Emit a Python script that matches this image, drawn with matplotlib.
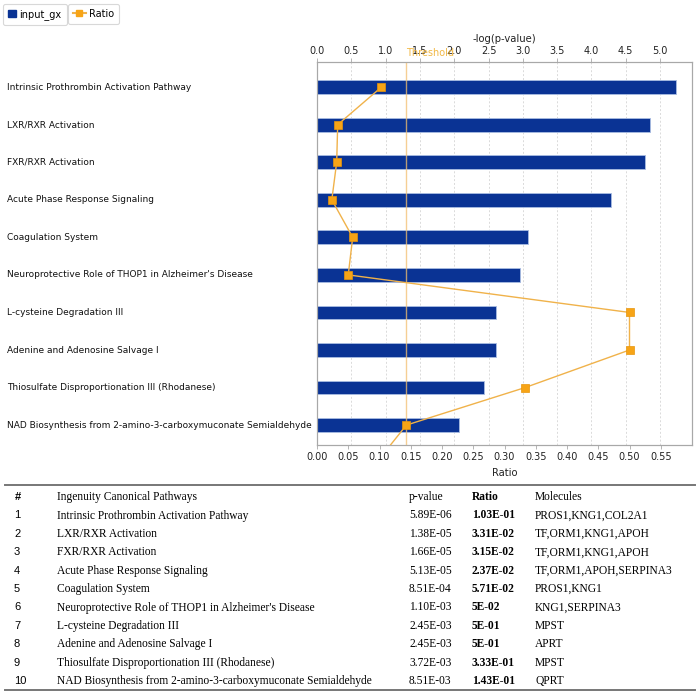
import numpy as np
import matplotlib
matplotlib.use('Agg')
import matplotlib.pyplot as plt
from matplotlib.lines import Line2D
from matplotlib.patches import Patch
import matplotlib.transforms as mtransforms

pathways = [
    "Intrinsic Prothrombin Activation Pathway",
    "LXR/RXR Activation",
    "FXR/RXR Activation",
    "Acute Phase Response Signaling",
    "Coagulation System",
    "Neuroprotective Role of THOP1 in Alzheimer's Disease",
    "L-cysteine Degradation III",
    "Adenine and Adenosine Salvage I",
    "Thiosulfate Disproportionation III (Rhodanese)",
    "NAD Biosynthesis from 2-amino-3-carboxymuconate Semialdehyde",
]
p_values = ["5.89E-06", "1.38E-05", "1.66E-05", "5.13E-05", "8.51E-04",
            "1.10E-03", "2.45E-03", "2.45E-03", "3.72E-03", "8.51E-03"]
ratio_labels = ["1.03E-01", "3.31E-02", "3.15E-02", "2.37E-02", "5.71E-02",
                "5E-02", "5E-01", "5E-01", "3.33E-01", "1.43E-01"]
molecules = ["PROS1,KNG1,COL2A1", "TF,ORM1,KNG1,APOH", "TF,ORM1,KNG1,APOH",
             "TF,ORM1,APOH,SERPINA3", "PROS1,KNG1", "KNG1,SERPINA3",
             "MPST", "APRT", "MPST", "QPRT"]
ratio_next_hidden = 0.095   # line continues to a (cut-off) next pathway
threshold_p = 0.05

logp_ticks = [0.0, 0.5, 1.0, 1.5, 2.0, 2.5, 3.0, 3.5, 4.0, 4.5, 5.0]
ratio_ticks = [0.00, 0.05, 0.10, 0.15, 0.20, 0.25, 0.30, 0.35, 0.40, 0.45, 0.50, 0.55]

neglogp = -np.log10(np.array([float(p) for p in p_values]))
ratios = np.array([float(r) for r in ratio_labels])

W, H = 700, 694
fig = plt.figure(figsize=(W / 100, H / 100), dpi=100)

def fx(px):
    return px / W

def fy(py):
    return 1 - py / H

BAR = '#0a3394'
ORANGE = '#f7a416'
LINEOR = '#f0b24a'
GRAY = '#a8a8a8'

ax = fig.add_axes([fx(317), fy(445), fx(692) - fx(317), fy(62) - fy(445)])
y = np.arange(len(pathways))
ax.barh(y, neglogp, height=0.37, color=BAR, edgecolor='#a9bce2', linewidth=0.6, zorder=2)
ax.set_xlim(0, 5.466)
ax.set_ylim(9.53, -0.67)
ax.set_yticks([])
ax.grid(axis='x', linestyle=(0, (2, 2)), color='#dadada', linewidth=0.7, zorder=0)
ax.set_axisbelow(True)

# ratio axis
ax2 = ax.twiny()
ax2.set_xlim(0, 0.6)
ax2.set_xticks(ratio_ticks)
ax2.set_xticklabels(['%.2f' % t for t in ratio_ticks])
ax2.xaxis.tick_bottom()
ax2.xaxis.set_label_position('bottom')
ax2.tick_params(axis='x', which='both', top=False, labeltop=False, bottom=True, labelbottom=True,
                labelsize=7, length=3, width=0.6, color=GRAY, pad=2, labelcolor='#222222')
ax2.set_xlabel('Ratio', fontsize=7.2, labelpad=4, color='#222222')

# -log(p) axis on top
ax.set_xticks(logp_ticks)
ax.set_xticklabels(['%.1f' % t for t in logp_ticks])
ax.xaxis.tick_top()
ax.xaxis.set_label_position('top')
ax.tick_params(axis='x', which='both', top=True, labeltop=True, bottom=False, labelbottom=False,
               labelsize=7, length=3, width=0.6, color=GRAY, pad=1.0, labelcolor='#222222')
ax.set_xlabel('-log(p-value)', fontsize=7.2, labelpad=3.5, color='#222222')

for a in (ax, ax2):
    for s in a.spines.values():
        s.set_color(GRAY)
        s.set_linewidth(0.8)

# threshold
thr = -np.log10(threshold_p)
ax.axvline(thr, color='#f2c070', linewidth=1.0, alpha=0.75, zorder=3)
tr = mtransforms.blended_transform_factory(ax.transData, ax.transAxes)
ax.text(thr, 1.011, 'Threshold', transform=tr, ha='left', va='bottom',
        fontsize=7, color='#f0b030', alpha=0.9)

line, = ax2.plot(np.append(ratios, ratio_next_hidden), np.append(y, len(y)),
                 color=LINEOR, linewidth=1.0, marker='s', markersize=6,
                 markerfacecolor=ORANGE, markeredgecolor='#e8960c', markeredgewidth=0.5,
                 zorder=4, clip_on=True)
ax2.set_ylim(9.53, -0.67)
line.set_clip_path(ax2.patch)

# category labels
trl = mtransforms.blended_transform_factory(fig.transFigure, ax.transData)
for i, name in enumerate(pathways):
    ax.text(fx(7), i, name, transform=trl, ha='left', va='center',
            fontsize=6.45, color='#111111', family='DejaVu Sans')

# legends
leg1 = fig.legend(handles=[Patch(facecolor=BAR, edgecolor=BAR)], labels=['input_gx'],
                  loc='upper left', bbox_to_anchor=(fx(3), fy(4)), fontsize=7,
                  frameon=True, fancybox=True, handlelength=0.8, handleheight=0.8,
                  handletextpad=0.4, borderpad=0.5, borderaxespad=0, edgecolor='#cfcfcf')
leg1.get_frame().set_linewidth(0.8)
leg2 = fig.legend(handles=[Line2D([0], [0], color=LINEOR, marker='s', markersize=5,
                                  markerfacecolor=ORANGE, markeredgecolor=ORANGE)],
                  labels=['Ratio'], loc='upper left', bbox_to_anchor=(fx(68), fy(4)),
                  fontsize=7, frameon=True, fancybox=True, handlelength=1.3,
                  handletextpad=0.4, borderpad=0.5, borderaxespad=0, edgecolor='#cfcfcf')
leg2.get_frame().set_linewidth(0.8)

# table
fig.add_artist(Line2D([fx(5), fx(695)], [fy(485), fy(485)], color='#777777', linewidth=1.4))
fig.add_artist(Line2D([fx(5), fx(695)], [fy(690), fy(690)], color='#777777', linewidth=1.4))
SERIF = 'Liberation Serif'
SANS = 'Liberation Sans'
fs = 8.3
hy = fy(497)
fig.text(fx(15), hy, '#', fontsize=8, family=SANS, fontweight='bold', va='center', ha='left')
fig.text(fx(57), hy, 'Ingenuity Canonical Pathways', fontsize=fs, family=SERIF, va='center')
fig.text(fx(409), hy, 'p-value', fontsize=fs, family=SERIF, va='center')
fig.text(fx(472), hy, 'Ratio', fontsize=fs, family=SERIF, fontweight='bold', va='center')
fig.text(fx(535), hy, 'Molecules', fontsize=fs, family=SERIF, va='center')
for i in range(len(pathways)):
    ry = fy(515.5 + 18.4 * i)
    fig.text(fx(14), ry, str(i + 1), fontsize=8, family=SANS, va='center', ha='left')
    fig.text(fx(57), ry, pathways[i], fontsize=fs, family=SERIF, va='center')
    fig.text(fx(409), ry, p_values[i], fontsize=fs, family=SERIF, va='center')
    fig.text(fx(472), ry, ratio_labels[i], fontsize=fs, family=SERIF, fontweight='bold', va='center')
    fig.text(fx(535), ry, molecules[i], fontsize=fs, family=SERIF, va='center')

fig.savefig('out.png', dpi=100)
